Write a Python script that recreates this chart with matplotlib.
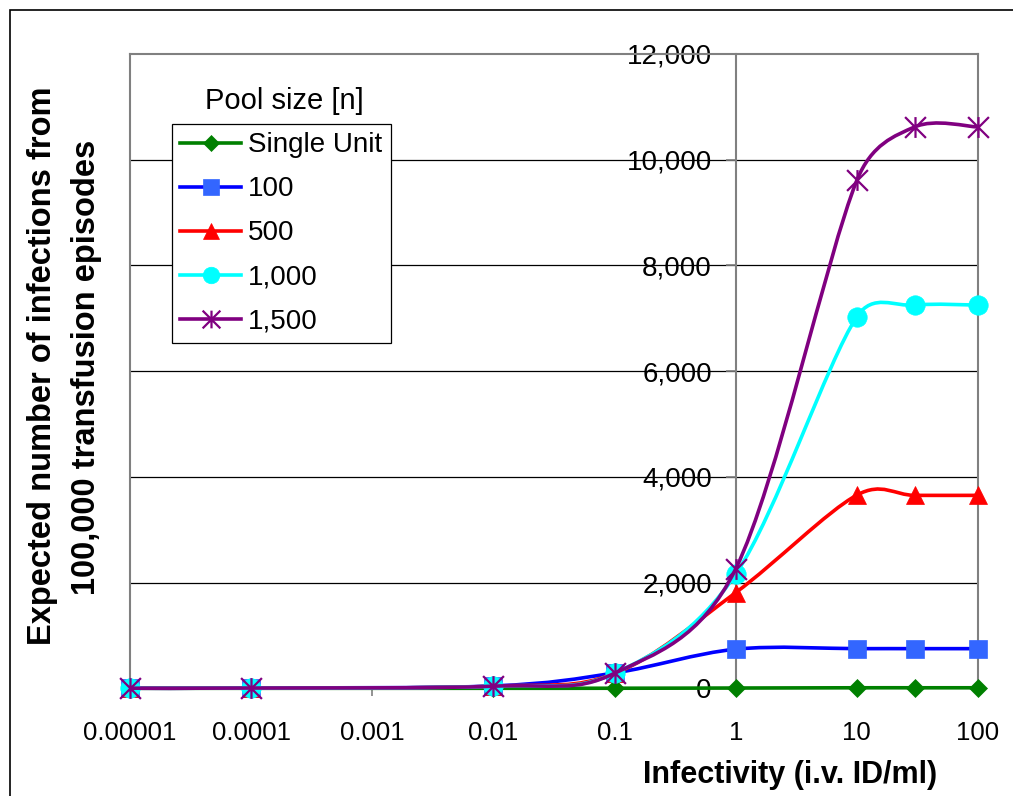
import numpy as np
import matplotlib

matplotlib.use('agg')

import matplotlib.pyplot as plt
from matplotlib.path import Path
from matplotlib.patches import PathPatch, Rectangle
from matplotlib.lines import Line2D
from matplotlib.transforms import Bbox
from matplotlib.ticker import NullLocator

plt.rcParams['font.family'] = ['Liberation Sans', 'DejaVu Sans']

# данные
infectivity = [0.00001, 0.0001, 0.01, 0.1, 1, 10, 30, 100]
single_unit = [0, 0, 0, 1, 5, 10, 10, 10]
pool_100 = [2, 5, 45, 290, 740, 750, 750, 750]
pool_500 = [2, 5, 40, 280, 1810, 3655, 3650, 3650]
pool_1000 = [2, 5, 40, 285, 2160, 7030, 7250, 7250]
pool_1500 = [2, 5, 40, 285, 2260, 9610, 10620, 10620]

series_names = ['Single Unit', '100', '500', '1,000', '1,500']
x_ticks = [0.00001, 0.0001, 0.001, 0.01, 0.1, 1, 10, 100]
x_tick_labels = ['0.00001', '0.0001', '0.001', '0.01', '0.1', '1', '10', '100']
y_ticks = [0, 2000, 4000, 6000, 8000, 10000, 12000]
y_tick_labels = ['0', '2,000', '4,000', '6,000', '8,000', '10,000', '12,000']

W, H = 1013, 796
GRAY = '#808080'


def smooth_path(ax, xs, ys):
    """Сглаженная линия как в Excel: Безье по соседним точкам в пикселях,
    длина управляющего отрезка не больше половины сегмента"""
    pts = ax.transData.transform(np.column_stack([xs, ys]))
    ext = np.vstack([pts[0], pts, pts[-1]])
    verts = [pts[0]]
    codes = [Path.MOVETO]
    for i in range(len(pts) - 1):
        p0, p1, p2, p3 = ext[i], ext[i + 1], ext[i + 2], ext[i + 3]
        half = np.hypot(*(p2 - p1)) / 2
        v1 = (p2 - p0) / 6
        v2 = (p3 - p1) / 6
        for v in (v1, v2):
            n = np.hypot(*v)
            if n > half and n > 0:
                v *= half / n
        verts += [p1 + v1, p2 - v2, p2]
        codes += [Path.CURVE4] * 3
    verts = ax.transData.inverted().transform(np.array(verts))
    return Path(verts, codes)


star = Path([(-1, -1), (1, 1), (-1, 1), (1, -1), (0, -1), (0, 1)],
            [Path.MOVETO, Path.LINETO, Path.MOVETO, Path.LINETO, Path.MOVETO, Path.LINETO])

styles = [
    dict(color='#008000', marker='D', ms=9.5, mfc='#008000', mec='#008000', mew=0.5),
    dict(color='#0000FF', marker='s', ms=13, mfc='#3366FF', mec='#3366FF', mew=0.5),
    dict(color='#FF0000', marker='^', ms=13.5, mfc='#FF0000', mec='#FF0000', mew=0.5),
    dict(color='#00FFFF', marker='o', ms=14, mfc='#00FFFF', mec='#00FFFF', mew=0.5),
    dict(color='#800080', marker=star, ms=15, mfc='none', mec='#800080', mew=1.6),
]
all_series = [single_unit, pool_100, pool_500, pool_1000, pool_1500]

fig = plt.figure(figsize=(W / 100, H / 100), dpi=100)
ax = fig.add_axes([130 / W, 1 - 688.3 / H, 848 / W, (688.3 - 54) / H])

ax.set_xscale('log')
ax.set_xlim(0.00001, 100)
ax.set_ylim(0, 12000)

handles = []
for k, (vals, st) in enumerate(zip(all_series, styles)):
    z = 3 + k
    patch = PathPatch(smooth_path(ax, infectivity, vals), fill=False, edgecolor=st['color'],
                      lw=2.6, zorder=z, clip_on=False)
    ax.add_patch(patch)
    ax.plot(infectivity, vals, linestyle='none', marker=st['marker'], ms=st['ms'],
            mfc=st['mfc'], mec=st['mec'], mew=st['mew'], zorder=z + 0.5, clip_on=False)
    handles.append(Line2D([], [], color=st['color'], lw=2.6, marker=st['marker'],
                          ms=st['ms'] * 0.85, mfc=st['mfc'], mec=st['mec'], mew=st['mew']))

# оси
for side in ['left', 'right', 'top', 'bottom']:
    ax.spines[side].set_color(GRAY)
    ax.spines[side].set_linewidth(1.5)
ax.spines['left'].set_position(('data', 1))
ax.axvline(0.00001, color=GRAY, lw=1.5, zorder=2.5, clip_on=False)

ax.set_xticks(x_ticks)
ax.set_xticklabels(x_tick_labels)
ax.xaxis.set_minor_locator(NullLocator())
ax.set_yticks(y_ticks)
ax.set_yticklabels(y_tick_labels)
ax.tick_params(axis='x', direction='out', length=5.8, width=1.2, color=GRAY, pad=18, labelsize=18.5)
ax.tick_params(axis='y', direction='out', length=7.2, width=1.2, color=GRAY, pad=10, labelsize=20)

ax.yaxis.grid(True, color='black', lw=0.9)
gl = ax.get_ygridlines()
gl[0].set_visible(False)
gl[-1].set_visible(False)

leg = ax.legend(handles, series_names, loc='upper left',
                bbox_to_anchor=(171.7 / W, 1 - 124 / H), bbox_transform=fig.transFigure,
                borderaxespad=0, fontsize=20, handlelength=2.2, handletextpad=0.25,
                labelspacing=0.65, borderpad=0.3, fancybox=False, framealpha=1,
                edgecolor='black')
leg.get_frame().set_linewidth(0.9)
leg.set_zorder(10)

fig.text(284 / W, 1 - 109.3 / H, 'Pool size [n]', ha='center', va='baseline', fontsize=21)

# подписи осей
clip = Bbox([[0, 0], [W, H - 83]])
t1 = fig.text(51 / W, 1 - 366 / H, 'Expected number of infections from', rotation=90,
              rotation_mode='anchor', ha='center', va='baseline', fontsize=23.5,
              fontweight='bold')
t1.set_clip_box(clip)
t1.set_clip_on(True)
fig.text(95 / W, 1 - 367 / H, '100,000 transfusion episodes', rotation=90,
         rotation_mode='anchor', ha='center', va='baseline', fontsize=23.5, fontweight='bold')
fig.text(790 / W, 1 - 783.3 / H, 'Infectivity (i.v. ID/ml)', ha='center', va='baseline',
         fontsize=22, fontweight='bold')

# рамка всей диаграммы
fig.add_artist(Rectangle((10 / W, -0.05), 1.1, 1 - 10 / H + 0.05, transform=fig.transFigure,
                         fill=False, edgecolor='black', lw=1.2))

fig.savefig('out.png', dpi=100)
plt.close()
